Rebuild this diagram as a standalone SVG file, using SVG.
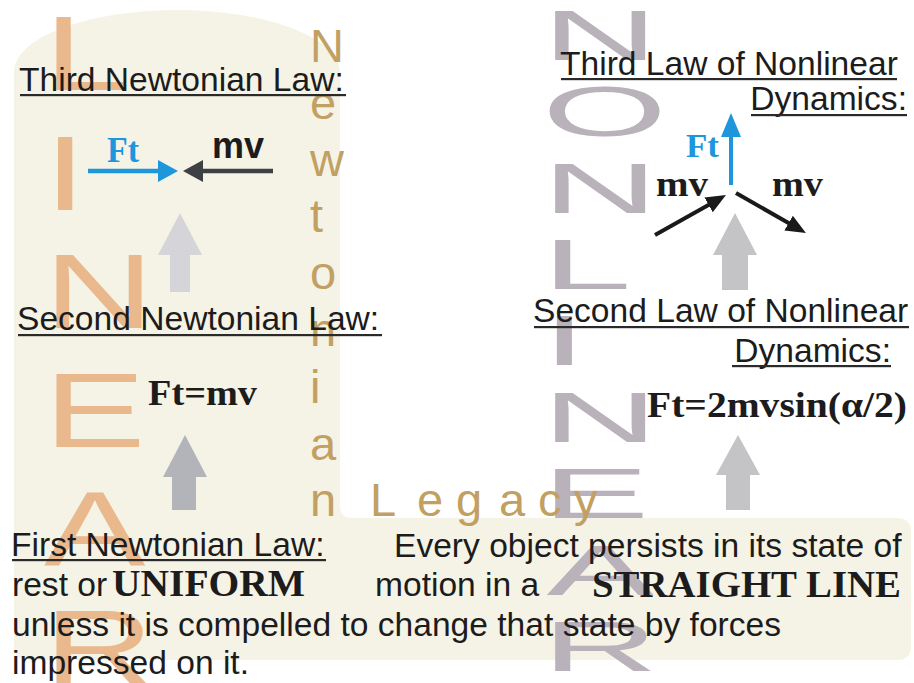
<svg xmlns="http://www.w3.org/2000/svg" width="914" height="683" viewBox="0 0 914 683">
<defs>
<style>
.head{font-family:"Liberation Sans",Arial,sans-serif;font-size:33.6px;fill:#1c1c1c}
.body{font-family:"Liberation Sans",Arial,sans-serif;font-size:33.6px;fill:#1c1c1c}
.serifb{font-family:"Liberation Serif","Times New Roman",serif;font-weight:bold;fill:#1c1c1c}
.ul{fill:#2a2a2a}
.big-l{font-family:"Liberation Sans",Arial,sans-serif;font-size:105px;fill:#e9b98d}
.big-r{font-family:"Liberation Sans",Arial,sans-serif;font-size:70px;fill:#b9b2ba}
.gold{font-family:"Liberation Sans",Arial,sans-serif;font-size:47px;fill:#c1a062}
.blue{fill:#1e96dc}
.blk{stroke:#1a1a1a;stroke-width:4;fill:none}
.bline{stroke:#1e96dc;stroke-width:4.5;fill:none}
.dline{stroke:#3d4045;stroke-width:4.5;fill:none}
</style>
<marker id="m-blue-h" markerUnits="userSpaceOnUse" viewBox="0 0 20 22" markerWidth="20" markerHeight="22" refX="6" refY="11" orient="auto"><path d="M0,0 L20,11 L0,22 Z" fill="#1e96dc"/></marker>
<marker id="m-dark-h" markerUnits="userSpaceOnUse" viewBox="0 0 20 22" markerWidth="20" markerHeight="22" refX="6" refY="11" orient="auto"><path d="M0,0 L20,11 L0,22 Z" fill="#3d4045"/></marker>
<marker id="m-blue-up" markerUnits="userSpaceOnUse" viewBox="0 0 24 20" markerWidth="24" markerHeight="20" refX="8" refY="10" orient="auto"><path d="M0,0 L24,10 L0,20 Z" fill="#1e96dc"/></marker>
<marker id="m-black" markerUnits="userSpaceOnUse" viewBox="0 0 20 17" markerWidth="20" markerHeight="17" refX="6" refY="8.5" orient="auto"><path d="M0,0 L20,8.5 L0,17 Z" fill="#1a1a1a"/></marker>
</defs>
<rect width="914" height="683" fill="#ffffff"/>
<path id="background" d="M14,72 A163,62 0 0 1 340,72 L340,506 Q340,518 352,518 L897,518 Q911,518 911,532 L911,646 Q911,660 897,660 L28,660 Q14,660 14,646 Z" fill="#f5f3e6"/>
<g id="linear-letters" transform="translate(44,0) scale(1.45,1)" class="big-l">
<text x="0" y="90">L</text>
<text x="0" y="210">I</text>
<text x="0" y="328">N</text>
<text x="0" y="447">E</text>
<text x="0" y="565">A</text>
<text x="0" y="684">R</text>
</g>
<g id="nonlinear-letters" transform="translate(542,0) scale(2.3,1)" class="big-r">
<text x="0" y="60">N</text>
<text x="0" y="136">O</text>
<text x="0" y="213">N</text>
<text x="0" y="289">L</text>
<text x="0" y="365">I</text>
<text x="0" y="442">N</text>
<text x="0" y="518">E</text>
<text x="2" y="595">A</text>
<text x="0" y="671">R</text>
</g>
<g id="newtonian-legacy" class="gold">
<text x="310" y="62">N</text>
<text x="310" y="119">e</text>
<text x="310" y="176">w</text>
<text x="310" y="232">t</text>
<text x="310" y="289">o</text>
<text x="310" y="346">n</text>
<text x="310" y="403">i</text>
<text x="310" y="460">a</text>
<text x="310" y="516">n</text>
<text y="516"><tspan x="370">L</tspan><tspan x="417">e</tspan><tspan x="456">g</tspan><tspan x="499">a</tspan><tspan x="538">c</tspan><tspan x="574">y</tspan></text>
</g>
<g id="connectors">
<polygon points="170,292 170,255 158,255 180,213 202,255 190,255 190,292" fill="#d5d5d9"/>
<polygon points="172,510 172,477 163,477 185,435 207,477 196,477 196,510" fill="#b3b4ba"/>
<polygon points="722,290 722,255 713,255 735,213 757,255 748,255 748,290" fill="#c4c4c6"/>
<polygon points="726,510 726,475 716,475 738,435 760,475 750,475 750,510" fill="#c4c4c6"/>
</g>
<g id="third-newtonian">
<text class="head" x="19" y="91">Third Newtonian Law:</text>
<rect class="ul" x="20" y="94" width="326" height="2.2"/>
<text class="serifb blue" x="107" y="162" font-size="35" textLength="32" lengthAdjust="spacingAndGlyphs">Ft</text>
<text x="212" y="158" font-family="Liberation Sans,Arial,sans-serif" font-weight="bold" font-size="36" fill="#1c1c1c">mv</text>
<line class="bline" x1="88" y1="171" x2="164" y2="171" marker-end="url(#m-blue-h)"/>
<line class="dline" x1="273" y1="171" x2="197" y2="171" marker-end="url(#m-dark-h)"/>
</g>
<g id="second-newtonian">
<text class="head" x="17" y="330">Second Newtonian Law:</text>
<rect class="ul" x="18" y="334" width="364" height="2.2"/>
<text class="serifb" x="148" y="405" font-size="36" textLength="109" lengthAdjust="spacingAndGlyphs">Ft=mv</text>
</g>
<g id="third-nonlinear">
<text class="head" x="560" y="75">Third Law of Nonlinear</text>
<rect class="ul" x="561" y="78" width="336" height="2.2"/>
<text class="head" x="907" y="110" text-anchor="end">Dynamics:</text>
<rect class="ul" x="751" y="114" width="156" height="2.2"/>
<text class="serifb blue" x="686" y="157" font-size="34" textLength="33" lengthAdjust="spacingAndGlyphs">Ft</text>
<text class="serifb" x="656" y="196" font-size="35" textLength="52" lengthAdjust="spacingAndGlyphs">mv</text>
<text class="serifb" x="772" y="196" font-size="35" textLength="51" lengthAdjust="spacingAndGlyphs">mv</text>
<line class="bline" x1="731" y1="185" x2="731" y2="129" style="stroke-width:4" marker-end="url(#m-blue-up)"/>
<line class="blk" x1="655" y1="235" x2="713.8" y2="201.9" marker-end="url(#m-black)"/>
<line class="blk" x1="736" y1="193" x2="793.8" y2="226.1" marker-end="url(#m-black)"/>
</g>
<g id="second-nonlinear">
<text class="head" x="533" y="322">Second Law of Nonlinear</text>
<rect class="ul" x="534" y="326" width="375" height="2.2"/>
<text class="head" x="891" y="362" text-anchor="end">Dynamics:</text>
<rect class="ul" x="732" y="365" width="159" height="2.2"/>
<text class="serifb" x="647" y="417" font-size="36" textLength="260" lengthAdjust="spacingAndGlyphs">Ft=2mvsin(α/2)</text>
</g>
<g id="first-newtonian">
<text class="head" x="11" y="556">First Newtonian Law:</text>
<rect class="ul" x="12" y="559" width="314" height="2.2"/>
<text class="body" x="394" y="557">Every object persists in its state of</text>
<text class="body" x="12" y="596">rest or</text>
<text class="serifb" x="112" y="596" font-size="38" textLength="193" lengthAdjust="spacingAndGlyphs">UNIFORM</text>
<text class="body" x="375" y="596">motion in a</text>
<text class="serifb" x="592" y="597" font-size="38" textLength="309" lengthAdjust="spacingAndGlyphs">STRAIGHT LINE</text>
<text class="body" x="12" y="636">unless it is compelled to change that state by forces</text>
<text class="body" x="12" y="674">impressed on it.</text>
</g>
</svg>
